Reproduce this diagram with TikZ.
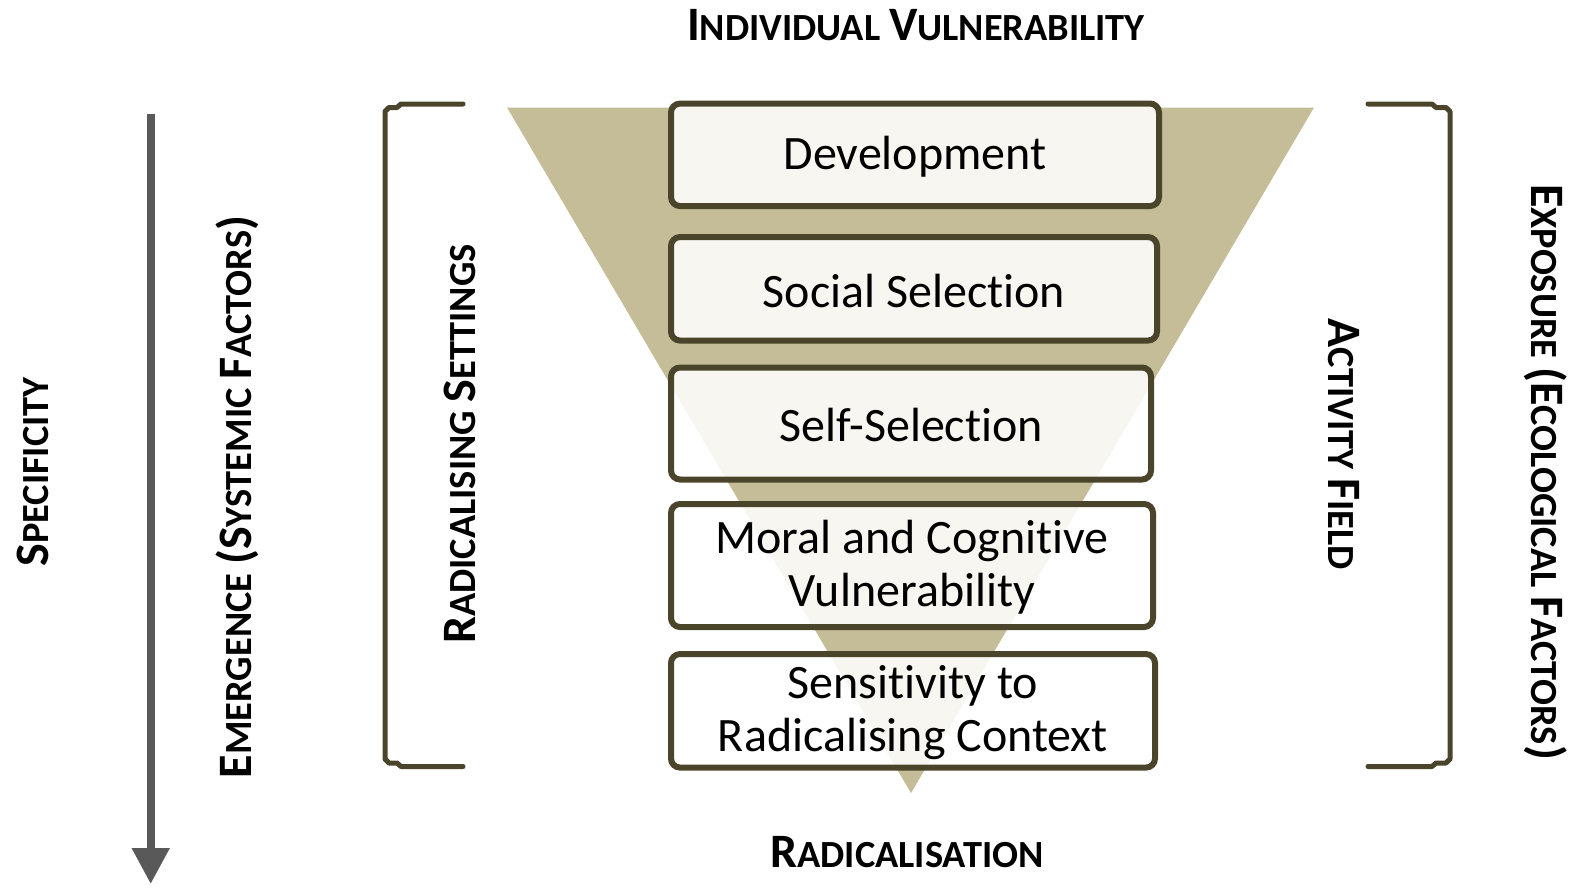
\documentclass[tikz,border=0pt]{standalone}
\usepackage{fontspec}
\setmainfont{Carlito}[Ligatures={NoCommon}]
\usetikzlibrary{arrows.meta}

\definecolor{tanfill}{HTML}{C4BD97}
\definecolor{olivedark}{HTML}{4A452A}
\definecolor{arrowgray}{HTML}{595959}

% full-size capital inside the hand-made small caps labels
\newcommand\tcap[1]{{\fontsize{48}{48}\selectfont #1}}

\begin{document}
\begin{tikzpicture}[x=1pt,y=-1pt,
  stagebox/.style={draw=olivedark, line width=6pt, rounded corners=9pt,
    fill=white, fill opacity=0.87, text opacity=1, inner sep=0pt},
  stagetext/.style={font=\fontsize{48}{53}\selectfont, align=center, text=black, yshift=-2pt},
  sclabel/.style={font=\bfseries\fontsize{38.4}{40}\selectfont, inner sep=0pt,
    text height=31pt, text depth=0pt, text=black},
  bracket/.style={draw=olivedark, line width=5pt, line cap=round, line join=round},
]
\useasboundingbox (0,0) rectangle (1575,887);

% funnel
\fill[tanfill] (507,107.5) -- (1314,107.5) -- (911,793) -- cycle;

% stage boxes
\node[stagebox, minimum width=488pt, minimum height=102.5pt] (dev) at (915,154.8) {};
\node[stagetext] at (dev) {Development};
\node[stagebox, minimum width=486pt, minimum height=103.5pt] (soc) at (914,288.8) {};
\node[stagetext] at (soc) {Social Selection};
\node[stagebox, minimum width=480pt, minimum height=112pt] (self) at (911,423.5) {};
\node[stagetext] at (self) {Self-Selection};
\node[stagebox, minimum width=482pt, minimum height=123pt] (moral) at (912,565.5) {};
\node[stagetext] at (moral) {Moral and Cognitive\\Vulnerability};
\node[stagebox, minimum width=484pt, minimum height=113.5pt] (sens) at (913,710.8) {};
\node[stagetext] at (sens) {Sensitivity to\\Radicalising Context};

% brackets
\draw[bracket] (463,104) -- (401,104) -- (397,107.5) -- (389,107.5) -- (385,111.5)
  -- (385,759) -- (389,763) -- (397,763) -- (401,766.5) -- (463,766.5);
\draw[bracket] (1368,104) -- (1432,104) -- (1436,107.5) -- (1446,107.5) -- (1450,111.5)
  -- (1450,759) -- (1446,763) -- (1436,763) -- (1432,766.5) -- (1368,766.5);

% specificity arrow
\coordinate (arrtop) at (150.7,114);
\coordinate (arrbot) at (150.7,884);
\draw[arrowgray, line width=8pt, -{Triangle[width=36pt,length=36pt]}] (arrtop) -- (arrbot);

% labels
\node[sclabel] (top) at (916,25) {\tcap{I}NDIVIDUAL \tcap{V}ULNERABILITY};
\node[sclabel] (bottom) at (907,852) {\tcap{R}ADICALISATION};
\node[sclabel, rotate=90] (spec) at (33,472) {\tcap{S}PECIFICITY};
\node[sclabel, rotate=90] (emer) at (236,497) {\tcap{E}MERGENCE \tcap{(S}YSTEMIC \tcap{F}ACTORS\tcap{)}};
\node[sclabel, rotate=90] (rset) at (460,444) {\tcap{R}ADICALISING \tcap{S}ETTINGS};
\node[sclabel, rotate=-90] (afield) at (1344,444) {\tcap{A}CTIVITY \tcap{F}IELD};
\node[sclabel, rotate=-90] (expo) at (1547,472) {\tcap{E}XPOSURE \tcap{(E}COLOGICAL \tcap{F}ACTORS\tcap{)}};
\end{tikzpicture}
\end{document}
